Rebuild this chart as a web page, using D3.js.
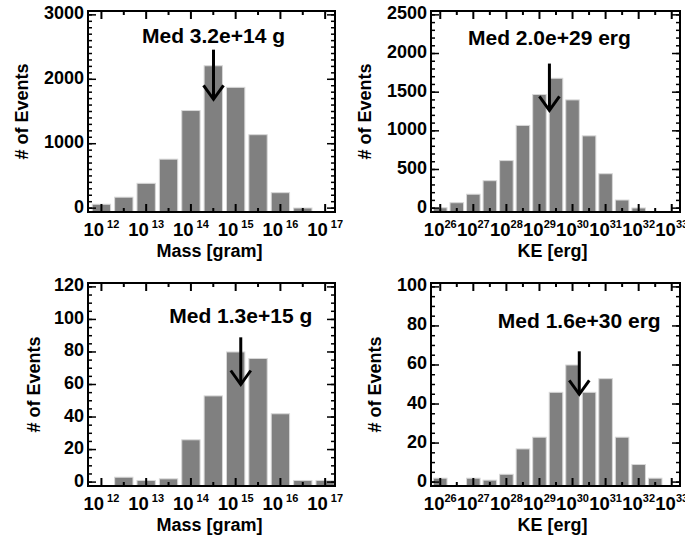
<!DOCTYPE html>
<html>
<head>
<meta charset="utf-8">
<script src="https://cdn.jsdelivr.net/npm/d3@7"></script>
<style>
  body { margin: 0; background: #fff; }
  text { font-family: "Liberation Sans", Arial, Helvetica, sans-serif; font-weight: bold; fill: #000; }
</style>
</head>
<body>
<div id="grafico"></div>
<script>
// Bin centres (log10 of the value), half a decade apart
var massBins = [12, 12.5, 13, 13.5, 14, 14.5, 15, 15.5, 16, 16.5, 17];
var keBins = [26, 26.5, 27, 27.5, 28, 28.5, 29, 29.5, 30, 30.5, 31, 31.5, 32, 32.5];

// Counts per bin
var massAll = [60, 170, 385, 760, 1515, 2210, 1875, 1140, 240, 2, 0];
var keAll = [5, 70, 180, 355, 615, 1070, 1470, 1680, 1400, 935, 445, 105, 2, 0];
var massSub = [0, 3, 1, 2, 26, 53, 80, 76, 42, 1, 1];
var keSub = [2, 0, 2, 1, 4, 17, 23, 46, 60, 46, 53, 23, 9, 2];

// Medians and labels
var medians = [3.2e14, 2.0e29, 1.3e15, 1.6e30];
var medLabels = ["Med 3.2e+14 g", "Med 2.0e+29 erg", "Med 1.3e+15 g", "Med 1.6e+30 erg"];
// arrow top / tip and label baseline, in counts
var arrowTop = [2460, 1870, 89, 67];
var arrowTip = [1690, 1265, 60, 45];
var labelY = [2565, 2115, 98, 79];

// Axis ticks
var massTicks = [12, 13, 14, 15, 16, 17];
var keTicks = [26, 27, 28, 29, 30, 31, 32, 33];
var yMax = [3000, 2500, 120, 100];
var yMajor = [1000, 500, 20, 20];
var yMinor = [100, 100, 5, 5];
var xTitles = ["Mass [gram]", "KE [erg]", "Mass [gram]", "KE [erg]"];

var W = 685, H = 540;
var svg = d3.select("#grafico").append("svg")
  .attr("width", W).attr("height", H);

var panels = [
  {x0: 88, x1: 335, y0: 11, y1: 212, dom: [11.7, 17.22], bins: massBins, vals: massAll, ticks: massTicks, gap: 3, ylab: 22},
  {x0: 431, x1: 680, y0: 11, y1: 212, dom: [25.72, 33.25], bins: keBins, vals: keAll, ticks: keTicks, gap: 0, ylab: 365},
  {x0: 88, x1: 335, y0: 283, y1: 486, dom: [11.7, 17.22], bins: massBins, vals: massSub, ticks: massTicks, gap: 3, ylab: 34},
  {x0: 431, x1: 680, y0: 283, y1: 486, dom: [25.72, 33.25], bins: keBins, vals: keSub, ticks: keTicks, gap: 0, ylab: 375}
];

panels.forEach(function(p, i) {
  var x = d3.scaleLog()
    .domain([Math.pow(10, p.dom[0]), Math.pow(10, p.dom[1])])
    .range([p.x0, p.x1]);
  // a little room below 0 and above the top label
  var pad = yMax[i] * 0.02;
  var y = d3.scaleLinear().domain([-pad, yMax[i] + pad]).range([p.y1, p.y0]);

  var g = svg.append("g");

  // barras, desde el eje
  var data = p.bins.map(function(b, j) { return {e: b, v: p.vals[j]}; })
    .filter(function(d) { return d.v > 0; });
  g.selectAll("rect.bar").data(data).enter().append("rect")
    .attr("class", "bar")
    .attr("x", function(d) { return x(Math.pow(10, d.e - 0.205)); })
    .attr("width", function(d) { return x(Math.pow(10, d.e + 0.205)) - x(Math.pow(10, d.e - 0.205)); })
    .attr("y", function(d) { return y(d.v); })
    .attr("height", function(d) { return p.y1 - y(d.v); })
    .style("fill", "#808080")
    .style("stroke", "#d8d8d8")
    .style("stroke-width", 1);

  // ticks del eje x (mayores y menores, abajo y arriba)
  var major = p.ticks.map(function(e) { return Math.pow(10, e); });
  var minor = p.ticks.slice(0, -1).map(function(e) { return Math.pow(10, e + 0.5); });
  [[p.y1, -1], [p.y0, 1]].forEach(function(s) {
    g.selectAll(null).data(major).enter().append("line")
      .attr("x1", function(d) { return x(d); }).attr("x2", function(d) { return x(d); })
      .attr("y1", s[0]).attr("y2", s[0] + s[1] * 8)
      .style("stroke", "#000").style("stroke-width", 2);
    g.selectAll(null).data(minor).enter().append("line")
      .attr("x1", function(d) { return x(d); }).attr("x2", function(d) { return x(d); })
      .attr("y1", s[0]).attr("y2", s[0] + s[1] * 4)
      .style("stroke", "#000").style("stroke-width", 2);
  });

  // ticks del eje y
  var yMaj = d3.range(0, yMax[i] + 0.001, yMajor[i]);
  var yMin = d3.range(0, yMax[i] + 0.001, yMinor[i]);
  [[p.x0, 1], [p.x1, -1]].forEach(function(s) {
    g.selectAll(null).data(yMaj).enter().append("line")
      .attr("x1", s[0]).attr("x2", s[0] + s[1] * 8)
      .attr("y1", function(d) { return y(d); }).attr("y2", function(d) { return y(d); })
      .style("stroke", "#000").style("stroke-width", 1.5);
    g.selectAll(null).data(yMin).enter().append("line")
      .attr("x1", s[0]).attr("x2", s[0] + s[1] * 4)
      .attr("y1", function(d) { return y(d); }).attr("y2", function(d) { return y(d); })
      .style("stroke", "#000").style("stroke-width", 1.5);
  });

  // marco
  g.append("rect")
    .attr("x", p.x0).attr("y", p.y0)
    .attr("width", p.x1 - p.x0).attr("height", p.y1 - p.y0)
    .style("fill", "none").style("stroke", "#000").style("stroke-width", 2);

  // etiquetas eje y
  g.selectAll(null).data(yMaj).enter().append("text")
    .attr("x", p.x0 - 4)
    .attr("y", function(d) { return y(d) + 4.5; })
    .attr("text-anchor", "end")
    .style("font-size", "18px")
    .text(function(d) { return d; });

  // etiquetas eje x: 10 con exponente
  var lab = g.selectAll(null).data(p.ticks).enter().append("text")
    .attr("x", function(e) { return x(Math.pow(10, e)); })
    .attr("y", p.y1 + 24)
    .attr("text-anchor", "middle")
    .style("font-size", "18.5px");
  lab.append("tspan").text("10");
  lab.append("tspan")
    .attr("dx", p.gap)
    .attr("dy", -8)
    .style("font-size", "11px")
    .text(function(e) { return e; });

  // titulo eje x
  g.append("text")
    .attr("x", (p.x0 + p.x1) / 2 + (i % 2 ? -3 : -2))
    .attr("y", p.y1 + 45)
    .attr("text-anchor", "middle")
    .style("font-size", "18px")
    .text(xTitles[i]);

  // titulo eje y
  g.append("text")
    .attr("transform", "translate(" + p.ylab + "," + ((p.y0 + p.y1) / 2) + ") rotate(-90)")
    .attr("text-anchor", "middle")
    .attr("dy", "0.35em")
    .style("font-size", "18px")
    .text("# of Events");

  // flecha de la mediana
  var mx = x(medians[i]);
  var tipY = y(arrowTip[i]);
  g.append("line")
    .attr("x1", mx).attr("x2", mx)
    .attr("y1", y(arrowTop[i])).attr("y2", tipY)
    .style("stroke", "#000").style("stroke-width", 3);
  g.append("path")
    .attr("d", "M" + (mx - 10) + "," + (tipY - 14) + "L" + mx + "," + tipY + "L" + (mx + 10) + "," + (tipY - 14))
    .style("fill", "none").style("stroke", "#000").style("stroke-width", 3);

  g.append("text")
    .attr("x", mx)
    .attr("y", y(labelY[i]))
    .attr("text-anchor", "middle")
    .style("font-size", "21px")
    .text(medLabels[i]);
});
</script>
</body>
</html>
